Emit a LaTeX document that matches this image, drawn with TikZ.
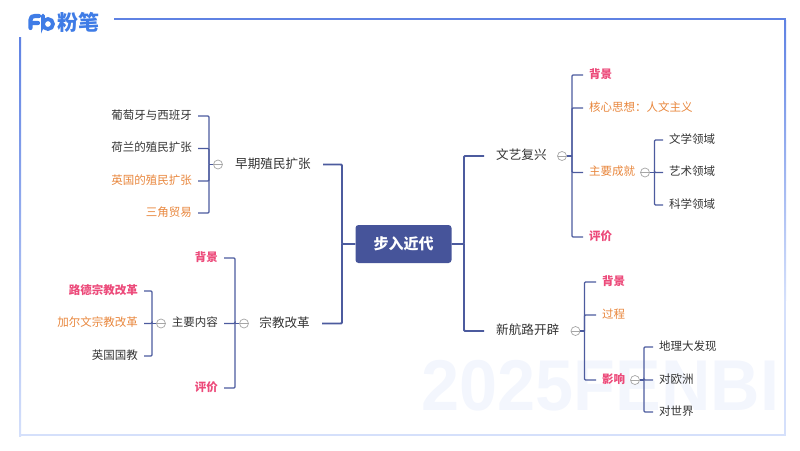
\documentclass[tikz,border=0pt]{standalone}
\usepackage{fontspec}
\usepackage{xcolor}
\setmainfont{Noto Sans CJK SC}
\newfontfamily\wmfont{Liberation Sans}
\definecolor{link-blue}{HTML}{4C5B9E}
\definecolor{root-blue}{HTML}{46549A}
\definecolor{logo-blue}{HTML}{3F7CE6}
\definecolor{frame-blue}{HTML}{5F82E3}
\definecolor{frame-pale}{HTML}{D5E0FB}
\definecolor{mark-pink}{HTML}{EC4A7A}
\definecolor{mark-orange}{HTML}{E8863C}
\definecolor{body-text}{HTML}{333333}
\definecolor{wm-tint}{HTML}{F3F6FD}
\tikzset{
    root-box/.style = {fill=root-blue, text=white, rectangle, rounded corners=3pt, minimum width=96pt, minimum height=38pt, inner sep=0pt, font=\fontsize{15}{18}\selectfont\bfseries},
    main-topic/.style = {text=body-text, inner xsep=12pt, inner ysep=0pt, text height=11pt, text depth=4pt, font=\fontsize{12.6}{15}\selectfont},
    leaf-topic/.style = {text=body-text, inner xsep=6pt, inner ysep=0pt, text height=10pt, text depth=4pt, font=\fontsize{11.5}{14}\selectfont},
    pink-topic/.style = {leaf-topic, text=mark-pink, font=\fontsize{11.5}{14}\selectfont\bfseries},
    orange-topic/.style = {leaf-topic, text=mark-orange},
    trunk-link/.style = {draw=link-blue, line width=1.8pt, rounded corners=1pt},
    branch-link/.style = {draw=link-blue, line width=1.3pt, rounded corners=1pt},
    fold-mark/.style = {circle, draw=gray!70, fill=white, line width=.7pt, minimum size=9pt, inner sep=0pt,
        path picture={\draw[gray!70, line width=.7pt] (path picture bounding box.west) -- (path picture bounding box.east);}},
}
\begin{document}
\begin{tikzpicture}[x=1pt,y=-1pt]
\useasboundingbox (0,0) rectangle (800,450);
% frame
\fill[frame-blue] (114,18) rectangle (786,20);
\fill[top color=frame-blue, bottom color=frame-pale] (19,37) rectangle (21,436);
\fill[top color=frame-blue, bottom color=frame-pale] (784,20) rectangle (786,300);
\fill[frame-pale] (784,300) rectangle (786,436);
\fill[frame-pale] (21,434) rectangle (786,436);
% logo
\draw[logo-blue, line width=4.2pt, line cap=round, line join=round] (30.5,28) -- (30.5,20) .. controls (30.5,17) and (32,16) .. (35,16) -- (39,16) (30.5,23) -- (38,23);
\draw[logo-blue, line width=3.8pt, line cap=round] (43,15.5) -- (43,24) arc[start angle=180, end angle=-170, radius=5pt];
\node[text=logo-blue, inner sep=0pt, anchor=west, font=\fontsize{21}{24}\selectfont\bfseries] (logo-text) at (57,22) {粉笔};
% watermark
\node[text=wm-tint, inner sep=0pt, xscale=.95, font=\wmfont\fontsize{72}{72}\selectfont\bfseries] (watermark) at (600.5,386) {2025FENBI};

\node[root-box] (root) at (403.5,244) {步入近代};

\node[main-topic, anchor=east] (early) at (323,164.5) {早期殖民扩张};
\node[main-topic, anchor=east] (reform) at (322,323.5) {宗教改革};
\node[main-topic, anchor=west] (renaissance) at (484,156) {文艺复兴};
\node[main-topic, anchor=west] (voyage) at (484,331) {新航路开辟};
\coordinate (left-joint) at (342,244);
\coordinate (right-joint) at (464,244);
\draw[trunk-link] (root.west) -- (left-joint) |- (early.east);
\draw[trunk-link] (left-joint) |- (reform.east);
\draw[trunk-link] (root.east) -- (right-joint) |- (renaissance.west);
\draw[trunk-link] (right-joint) |- (voyage.west);

% early colonies
\node[leaf-topic, anchor=east] (portugal) at (198,116) {葡萄牙与西班牙};
\node[leaf-topic, anchor=east] (dutch) at (198,148.5) {荷兰的殖民扩张};
\node[orange-topic, anchor=east] (british) at (198,181) {英国的殖民扩张};
\node[orange-topic, anchor=east] (triangle) at (198,213) {三角贸易};
\coordinate (early-joint) at (209,164.5);
\draw[branch-link] (early-joint) |- (portugal.east);
\draw[branch-link] (early-joint) |- (dutch.east);
\draw[branch-link] (early-joint) |- (british.east);
\draw[branch-link] (early-joint) |- (triangle.east);
\node[fold-mark] (early-fold) at (218,164.5) {};
\draw[branch-link] (early-fold.west) -- (early-joint);

% reformation
\node[pink-topic, anchor=east] (reform-bg) at (224,258) {背景};
\node[leaf-topic, anchor=east] (reform-main) at (224,323.5) {主要内容};
\node[pink-topic, anchor=east] (reform-eval) at (224,388) {评价};
\coordinate (reform-joint) at (235,323.5);
\draw[branch-link] (reform-joint) |- (reform-bg.east);
\draw[branch-link] (reform-joint) |- (reform-main.east);
\draw[branch-link] (reform-joint) |- (reform-eval.east);
\node[fold-mark] (reform-fold) at (244,323.5) {};
\draw[branch-link] (reform-fold.west) -- (reform-joint);
\node[pink-topic, anchor=east] (luther) at (144,291) {路德宗教改革};
\node[orange-topic, anchor=east] (calvin) at (144,323.5) {加尔文宗教改革};
\node[leaf-topic, anchor=east] (anglican) at (144,356) {英国国教};
\coordinate (main-joint) at (152,323.5);
\draw[branch-link] (main-joint) |- (luther.east);
\draw[branch-link] (main-joint) |- (calvin.east);
\draw[branch-link] (main-joint) |- (anglican.east);
\node[fold-mark] (main-fold) at (161,323.5) {};
\draw[branch-link] (main-fold.west) -- (main-joint);

% renaissance
\node[pink-topic, anchor=west] (ren-bg) at (583,75) {背景};
\node[orange-topic, anchor=west] (ren-core) at (583,108) {核心思想：人文主义};
\node[orange-topic, anchor=west] (ren-result) at (583,172.5) {主要成就};
\node[pink-topic, anchor=west] (ren-eval) at (583,237) {评价};
\coordinate (ren-joint) at (572,156);
\draw[branch-link] (ren-joint) |- (ren-bg.west);
\draw[branch-link] (ren-joint) |- (ren-core.west);
\draw[branch-link] (ren-joint) |- (ren-result.west);
\draw[branch-link] (ren-joint) |- (ren-eval.west);
\node[fold-mark] (ren-fold) at (562,156) {};
\draw[branch-link] (ren-fold.east) -- (ren-joint);
\node[leaf-topic, anchor=west] (literature) at (663,140) {文学领域};
\node[leaf-topic, anchor=west] (art) at (663,172.5) {艺术领域};
\node[leaf-topic, anchor=west] (science) at (663,205) {科学领域};
\coordinate (result-joint) at (654.5,172.5);
\draw[branch-link] (result-joint) |- (literature.west);
\draw[branch-link] (result-joint) |- (art.west);
\draw[branch-link] (result-joint) |- (science.west);
\node[fold-mark] (result-fold) at (645,172.5) {};
\draw[branch-link] (result-fold.east) -- (result-joint);

% new routes
\node[pink-topic, anchor=west] (voy-bg) at (596,282) {背景};
\node[orange-topic, anchor=west] (voy-course) at (596,315) {过程};
\node[pink-topic, anchor=west] (voy-effect) at (596,380) {影响};
\coordinate (voy-joint) at (584.5,331);
\draw[branch-link] (voy-joint) |- (voy-bg.west);
\draw[branch-link] (voy-joint) |- (voy-course.west);
\draw[branch-link] (voy-joint) |- (voy-effect.west);
\node[fold-mark] (voy-fold) at (575.5,331) {};
\draw[branch-link] (voy-fold.east) -- (voy-joint);
\node[leaf-topic, anchor=west] (discovery) at (653,347) {地理大发现};
\node[leaf-topic, anchor=west] (europe) at (653,380) {对欧洲};
\node[leaf-topic, anchor=west] (world) at (653,412) {对世界};
\coordinate (effect-joint) at (644,380);
\draw[branch-link] (effect-joint) |- (discovery.west);
\draw[branch-link] (effect-joint) |- (europe.west);
\draw[branch-link] (effect-joint) |- (world.west);
\node[fold-mark] (effect-fold) at (635,380) {};
\draw[branch-link] (effect-fold.east) -- (effect-joint);
\end{tikzpicture}
\end{document}
